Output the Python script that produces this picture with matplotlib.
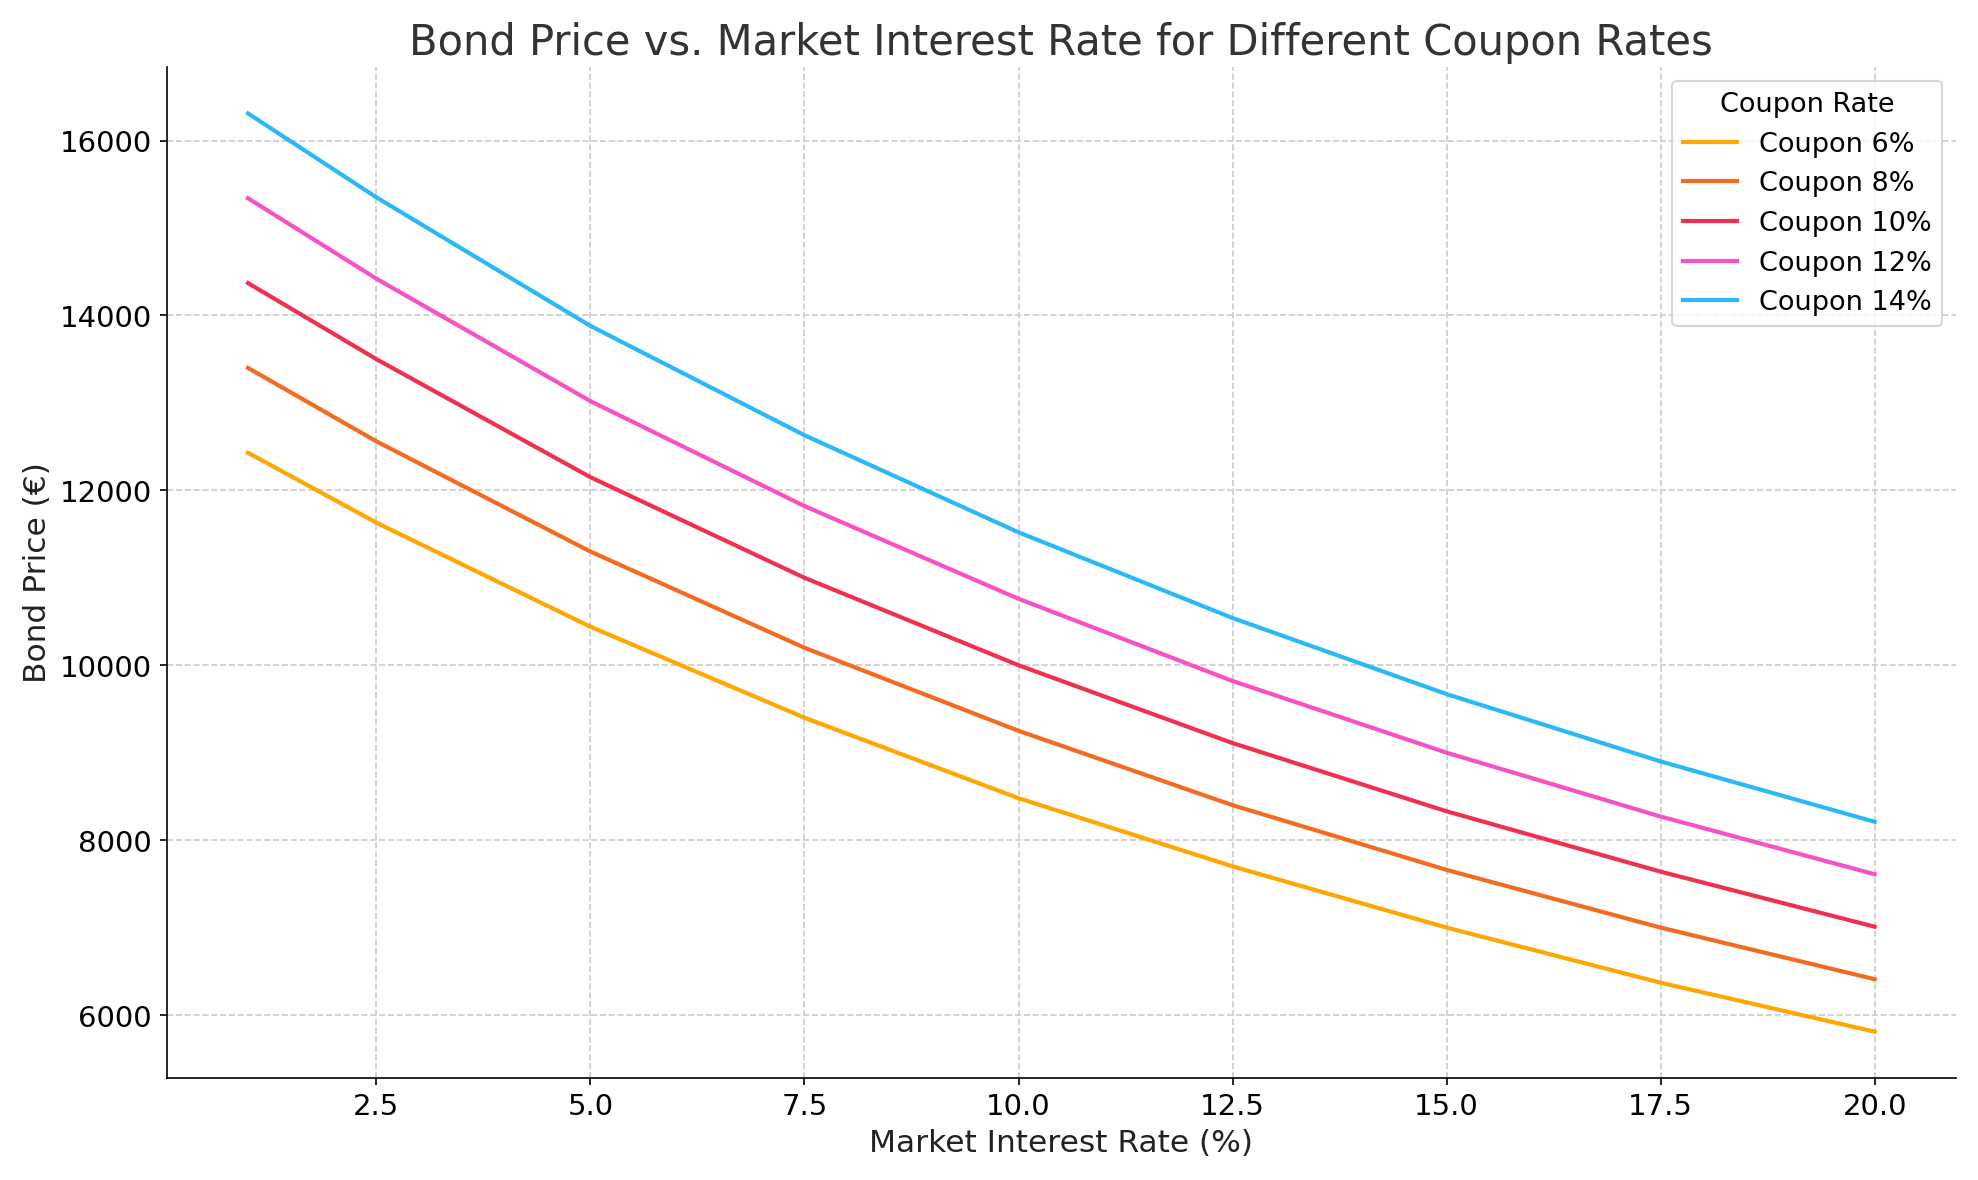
import matplotlib
matplotlib.use("Agg")
import matplotlib.pyplot as plt

# market interest rate (%) and bond prices
rates = [1, 2.5, 5, 7.5, 10, 12.5, 15, 17.5, 20]
coupon_6 = [12430, 11630, 10440, 9400, 8480, 7700, 7000, 6370, 5810]
coupon_8 = [13400, 12560, 11300, 10200, 9250, 8400, 7660, 7000, 6410]
coupon_10 = [14370, 13500, 12150, 11000, 10000, 9110, 8330, 7640, 7010]
coupon_12 = [15340, 14420, 13020, 11820, 10760, 9820, 9000, 8270, 7610]
coupon_14 = [16310, 15350, 13880, 12630, 11520, 10540, 9670, 8900, 8210]

labels = ["Coupon 6%", "Coupon 8%", "Coupon 10%", "Coupon 12%", "Coupon 14%"]
colors = ["#FFA600", "#F26B21", "#F0304F", "#F652C4", "#2BB8F8"]

fig, ax = plt.subplots(figsize=(13.19, 7.87), dpi=150)
for ys, lab, c in zip([coupon_6, coupon_8, coupon_10, coupon_12, coupon_14], labels, colors):
    ax.plot(rates, ys, color=c, linewidth=2, label=lab)

ax.set_title("Bond Price vs. Market Interest Rate for Different Coupon Rates", fontsize=20, color="#333333")
ax.set_xlabel("Market Interest Rate (%)", fontsize=15, color="#222222")
ax.set_ylabel("Bond Price (€)", fontsize=15, color="#222222")
ax.tick_params(labelsize=14)
ax.grid(True, linestyle="--", color="#cccccc", linewidth=0.8)
ax.spines["top"].set_visible(False)
ax.spines["right"].set_visible(False)
ax.legend(title="Coupon Rate", fontsize=13, title_fontsize=13, loc="upper right")
fig.tight_layout()
fig.savefig("out.png")
